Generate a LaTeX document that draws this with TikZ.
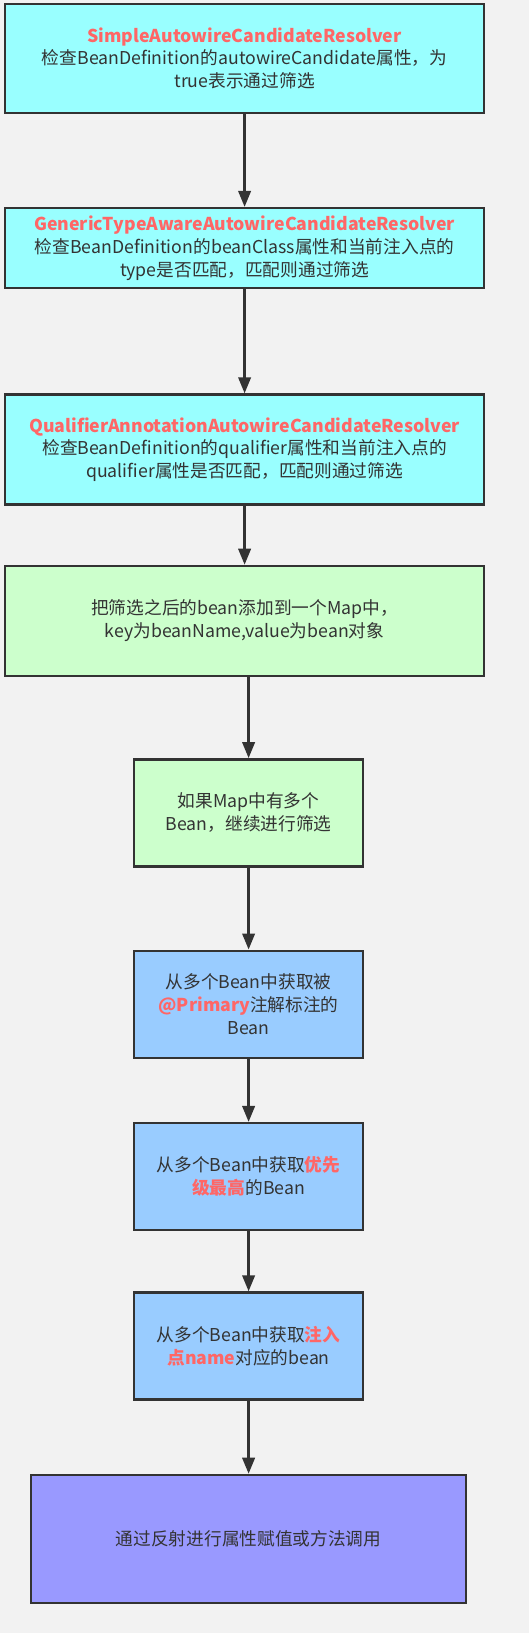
\documentclass[tikz,border=0pt]{standalone}
\usepackage{fontspec}
\setmainfont{Noto Sans CJK SC}
\usetikzlibrary{arrows.meta,positioning}
\definecolor{flbg}{RGB}{242,242,242}
\definecolor{flcyan}{RGB}{153,255,255}
\definecolor{flgreen}{RGB}{204,255,204}
\definecolor{flblue}{RGB}{153,204,255}
\definecolor{flpurple}{RGB}{153,153,255}
\definecolor{flred}{RGB}{255,102,102}
\definecolor{flline}{RGB}{51,51,51}
\newcommand{\hlred}[1]{\textcolor{flred}{\textbf{#1}}}

\begin{document}
\begin{tikzpicture}[
    x=1pt, y=1pt,
    box/.style={draw=flline, line width=2.4pt, align=center, inner sep=2pt, text=flline, font=\fontsize{17.7}{22.8}\selectfont},
    resolver/.style={box, fill=flcyan, minimum width=479pt},
    mapbox/.style={box, fill=flgreen},
    pickbox/.style={box, fill=flblue, minimum width=229pt, minimum height=107pt},
    endbox/.style={box, fill=flpurple, minimum width=435pt, minimum height=128pt},
    arrow/.style={-{Triangle[length=16pt,width=12.5pt]}, line width=2.4pt, draw=flline}
]
\useasboundingbox[fill=flbg] (0,0) rectangle (529,-1633);
\node[resolver, minimum height=109pt, anchor=north] (simple) at (244.6,-2.5) {\hlred{SimpleAutowireCandidateResolver}\\检查BeanDefinition的autowireCandidate属性，为\\true表示通过筛选};
\node[resolver, minimum height=80pt, below=93pt of simple] (generic) {\hlred{GenericTypeAwareAutowireCandidateResolver}\\检查BeanDefinition的beanClass属性和当前注入点的\\type是否匹配，匹配则通过筛选};
\node[resolver, minimum height=110pt, below=104pt of generic] (qualifier) {\hlred{QualifierAnnotationAutowireCandidateResolver}\\检查BeanDefinition的qualifier属性和当前注入点的\\qualifier属性是否匹配，匹配则通过筛选};
\node[mapbox, minimum width=479pt, minimum height=110pt, below=59pt of qualifier] (addmap) {把筛选之后的bean添加到一个Map中，\\key为beanName,value为bean对象};
\node[mapbox, minimum width=229pt, minimum height=107pt, below=81pt of addmap, xshift=4pt] (multi) {如果Map中有多个\\Bean，继续进行筛选};
\node[pickbox, below=82pt of multi] (primary) {从多个Bean中获取被\\\hlred{@Primary}注解标注的\\Bean};
\node[pickbox, below=63pt of primary] (priority) {从多个Bean中获取\hlred{优先}\\\hlred{级最高}的Bean};
\node[pickbox, below=60pt of priority] (byname) {从多个Bean中获取\hlred{注入}\\\hlred{点name}对应的bean};
\node[endbox, below=73pt of byname] (inject) {通过反射进行属性赋值或方法调用};
\draw[arrow] (simple) -- (generic);
\draw[arrow] (generic) -- (qualifier);
\draw[arrow] (qualifier) -- (addmap);
\draw[arrow] (addmap.south -| multi.north) -- (multi.north);
\draw[arrow] (multi) -- (primary);
\draw[arrow] (primary) -- (priority);
\draw[arrow] (priority) -- (byname);
\draw[arrow] (byname.south) -- (byname.south |- inject.north);
\end{tikzpicture}
\end{document}
